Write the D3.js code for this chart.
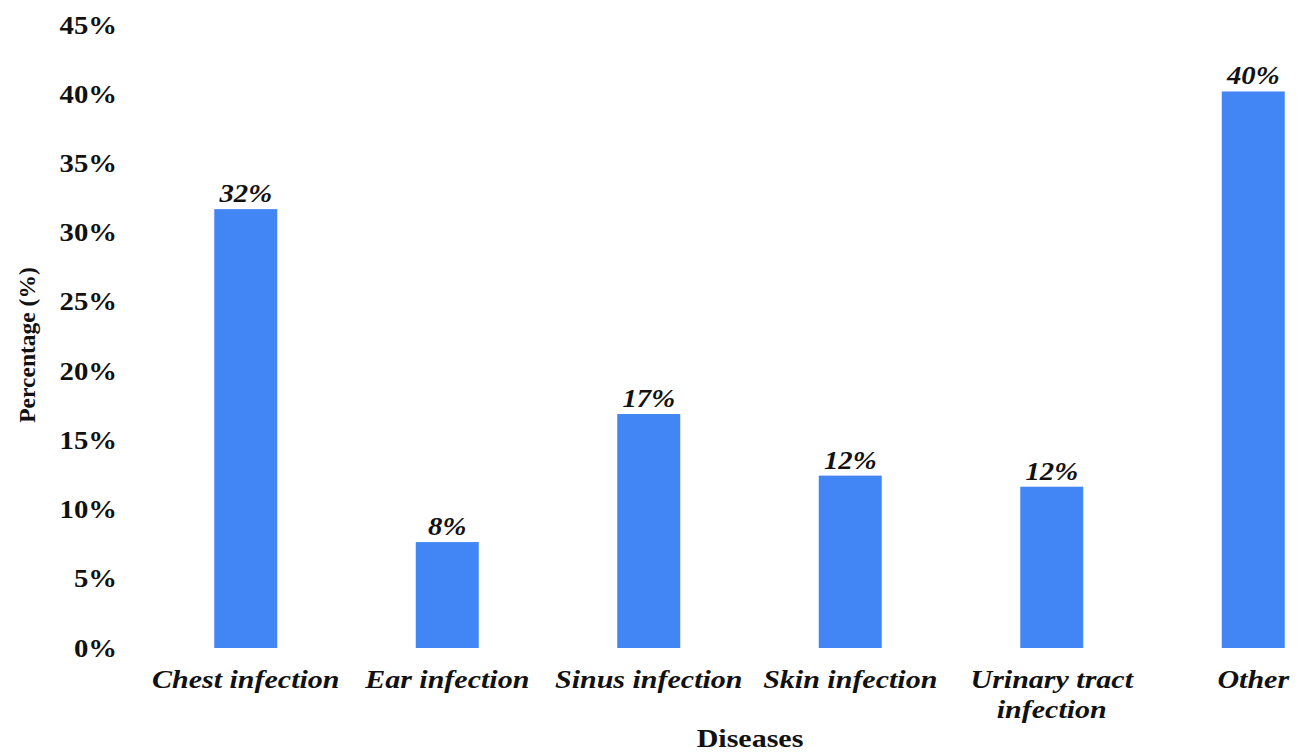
<!DOCTYPE html>
<html>
<head>
<meta charset="utf-8">
<script src="https://cdn.jsdelivr.net/npm/d3@7/dist/d3.min.js"></script>
<style>
  html, body { margin: 0; padding: 0; background: #fff; }
  svg text { font-family: "Liberation Serif", "Times New Roman", serif; font-weight: bold; fill: #111; }
</style>
</head>
<body>
<svg id="chart" width="1300" height="752"></svg>
<script>
// Share of cases by disease (%)
const categories = [["Chest infection"], ["Ear infection"], ["Sinus infection"], ["Skin infection"], ["Urinary tract", "infection"], ["Other"]];
const values = [31.7, 7.65, 16.9, 12.45, 11.65, 40.2];
const yTicks = [0, 5, 10, 15, 20, 25, 30, 35, 40, 45];

const svg = d3.select("#chart");

const x = d3.scaleBand()
  .domain(d3.range(categories.length))
  .range([145, 1354])
  .paddingInner(0.6875)
  .paddingOuter(0.34375);

const y = d3.scaleLinear().domain([0, 45]).range([648, 25]);

// horizontally widened text
function wideText(sel, px, py, str, size, anchor, italic, stretch) {
  const g = sel.append("g").attr("transform", `translate(${px},${py}) scale(${stretch},1)`);
  g.append("text")
    .attr("text-anchor", anchor)
    .attr("font-size", size)
    .attr("font-style", italic ? "italic" : "normal")
    .text(str);
  return g;
}

// y tick labels
const yAxis = d3.axisLeft(y).tickValues(yTicks).tickSize(0).tickFormat(d => d + "%");
const yg = svg.append("g").attr("transform", "translate(117,0)").call(yAxis);
yg.select(".domain").remove();
yg.selectAll("text").remove();
yg.selectAll(".tick").each(function(d) {
  wideText(d3.select(this), 0, 8, d + "%", 25, "end", false, 1.15);
});

// bars
svg.append("g").selectAll("rect")
  .data(values)
  .join("rect")
  .attr("x", (d, i) => x(i))
  .attr("y", d => y(d))
  .attr("width", x.bandwidth())
  .attr("height", d => y(0) - y(d))
  .attr("fill", "#4285f4");

// value labels
const vl = svg.append("g");
values.forEach((v, i) => {
  wideText(vl, x(i) + x.bandwidth() / 2, y(v) - 7, Math.round(v) + "%", 25, "middle", true, 1.15);
});

// category labels
const cl = svg.append("g");
categories.forEach((lines, i) => {
  lines.forEach((t, j) => {
    wideText(cl, x(i) + x.bandwidth() / 2, 688 + j * 30, t, 25, "middle", true, 1.2);
  });
});

// axis titles
svg.append("text")
  .attr("transform", "translate(35,345) rotate(-90)")
  .attr("text-anchor", "middle")
  .attr("font-size", 23.5)
  .text("Percentage (%)");

wideText(svg, 750, 747, "Diseases", 25, "middle", false, 1.2);
</script>
</body>
</html>
